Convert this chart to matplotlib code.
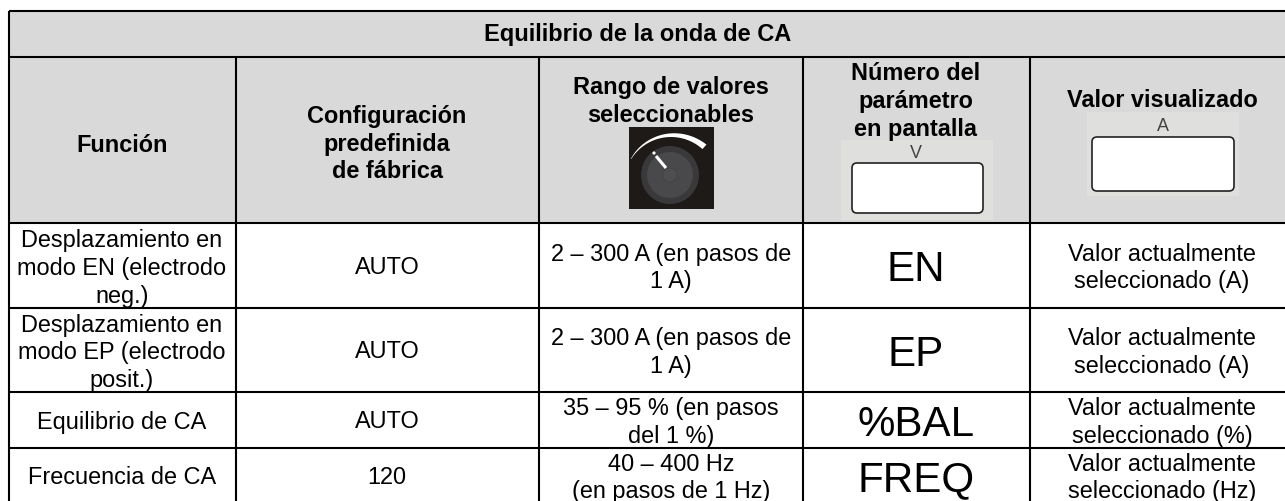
import matplotlib
matplotlib.use("Agg")
import matplotlib.pyplot as plt
from matplotlib.patches import Rectangle, FancyBboxPatch, Circle, Polygon
import numpy as np

plt.rcParams['font.family'] = ['Liberation Sans', 'DejaVu Sans']

title = "Equilibrio de la onda de CA"
headers = ["Función", "Configuración\npredefinida\nde fábrica", "Rango de valores\nseleccionables",
           "Número del\nparámetro\nen pantalla", "Valor visualizado"]
functions = ["Desplazamiento en\nmodo EN (electrodo\nneg.)", "Desplazamiento en\nmodo EP (electrodo\nposit.)",
             "Equilibrio de CA", "Frecuencia de CA"]
defaults = ["AUTO", "AUTO", "AUTO", "120"]
ranges = ["2 – 300 A (en pasos de\n1 A)", "2 – 300 A (en pasos de\n1 A)", "35 – 95 % (en pasos\ndel 1 %)",
          "40 – 400 Hz\n(en pasos de 1 Hz)"]
params = ["EN", "EP", "%BAL", "FREQ"]
shown = ["Valor actualmente\nseleccionado (A)", "Valor actualmente\nseleccionado (A)",
         "Valor actualmente\nseleccionado (%)", "Valor actualmente\nseleccionado (Hz)"]

col_x = [9, 236, 539, 803, 1030, 1285]
row_y = [11, 57, 223, 308, 392, 448, 503]

fig = plt.figure(figsize=(12.85, 5.01), dpi=100)
ax = fig.add_axes([0, 0, 1, 1])
ax.set_xlim(0, 1285); ax.set_ylim(501, 0); ax.axis('off')

ax.add_patch(Rectangle((col_x[0], row_y[0]), col_x[-1]-col_x[0], row_y[2]-row_y[0], fc='#d9d9d9', ec='none', zorder=0))

lw = 1.5
for x in col_x[:-1]:
    y0 = row_y[0] if x == col_x[0] else row_y[1]
    ax.plot([x, x], [y0, row_y[-1]], color='k', lw=lw, solid_capstyle='butt', zorder=6)
for y in row_y:
    ax.plot([col_x[0], col_x[-1]], [y, y], color='k', lw=lw, solid_capstyle='butt', zorder=6)

cx = [122, 387, 671, 916, 1162]
ax.text(638, 34, title, ha='center', va='center', fontsize=17, fontweight='bold')

hfs = 16.9
ls = 1.26
ax.text(cx[0], 145, headers[0], ha='center', va='center', fontsize=hfs, fontweight='bold')
ax.text(cx[1], 144, headers[1], ha='center', va='center', fontsize=hfs, fontweight='bold', linespacing=ls)
ax.text(cx[2], 101.5, headers[2], ha='center', va='center', fontsize=hfs, fontweight='bold', linespacing=ls)
ax.text(cx[3], 101.5, headers[3], ha='center', va='center', fontsize=hfs, fontweight='bold', linespacing=ls, zorder=4)
ax.text(cx[4], 100, headers[4], ha='center', va='center', fontsize=hfs, fontweight='bold', zorder=4)

# knob icon
ax.add_patch(Rectangle((629, 127), 85, 82, fc='#1e1a18', ec='none'))
ax.add_patch(Circle((670, 175), 29, fc='#39393b', ec='none'))
ax.add_patch(Circle((670, 175), 23, fc='#49494b', ec='none'))
ax.add_patch(Circle((670, 175), 7, fc='#4e4e50', ec='#424244', lw=0.6))
th = np.radians(np.linspace(148, 48, 40))
r0, r1 = 47, 47 + np.linspace(0.4, 6, 40)
xs = np.r_[671+r0*np.cos(th), (671+r1*np.cos(th))[::-1]]
ys = np.r_[184-r0*np.sin(th), (184-r1*np.sin(th))[::-1]]
ax.add_patch(Polygon(np.c_[xs, ys], fc='white', ec='none'))
ax.plot([656, 666], [156, 168], color='white', lw=2.2, solid_capstyle='butt')
ax.add_patch(Circle((654, 153), 1.6, fc='white', ec='none'))

# display icons
def display(x0, y0, w, h, bgx, bgy, bgw, bgh, label, lx, ly):
    ax.add_patch(Rectangle((bgx, bgy), bgw, bgh, fc='#dfe0de', ec='none', zorder=1))
    ax.add_patch(FancyBboxPatch((x0+3, y0+3), w-6, h-6, boxstyle='round,pad=3,rounding_size=5',
                                fc='white', ec='#222222', lw=1.2, zorder=2))
    ax.text(lx, ly, label, ha='center', va='center', fontsize=13, color='#444444', zorder=3)

display(852, 163, 131, 50, 841, 140, 152, 80, "V", 916, 153)
display(1092, 137, 142, 54, 1087, 112, 152, 84, "A", 1163, 126)

body = 16.9
for i in range(4):
    y = (row_y[i+2]+row_y[i+3])/2
    ax.text(cx[0], y + (3 if i < 2 else 2), functions[i], ha='center', va='center', fontsize=body, linespacing=ls, zorder=5)
    ax.text(cx[1], y + 2, defaults[i], ha='center', va='center', fontsize=body)
    ax.text(cx[2], y + 2.5, ranges[i], ha='center', va='center', fontsize=body, linespacing=ls)
    ax.text(cx[3], y + 15.5, params[i], ha='center', va='baseline', fontsize=30.3)
    ax.text(cx[4], y + 2.5, shown[i], ha='center', va='center', fontsize=body, linespacing=ls)

fig.savefig("out.png", dpi=100)
